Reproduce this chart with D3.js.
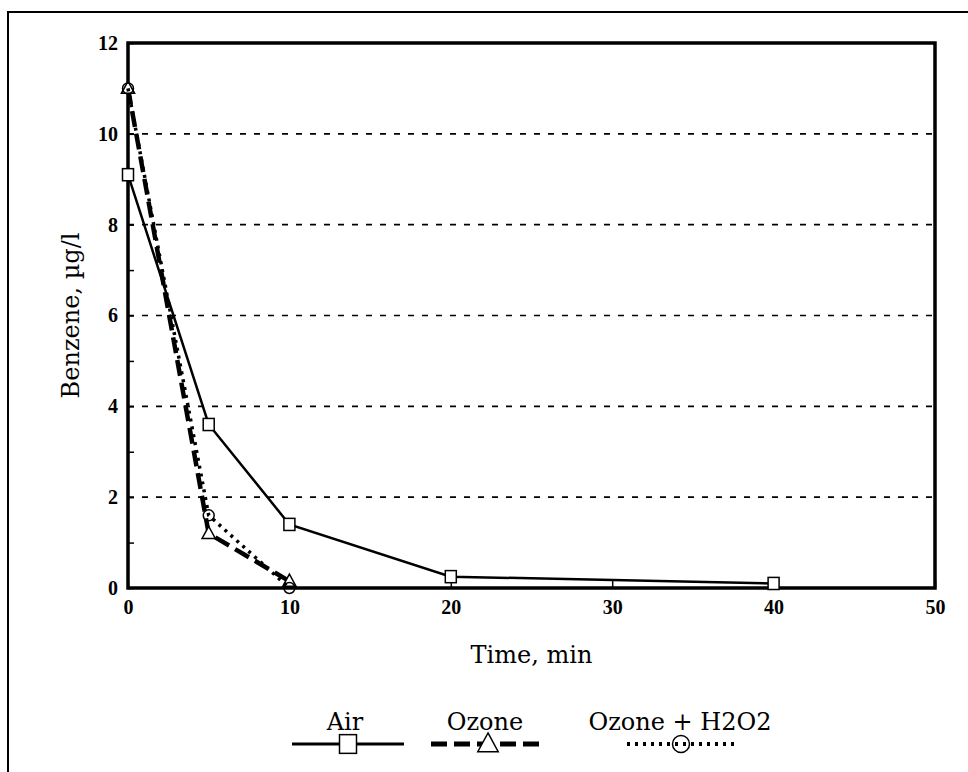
<!DOCTYPE html>
<html>
<head>
<meta charset="utf-8">
<script src="https://cdn.jsdelivr.net/npm/d3@7"></script>
<style>
  body { margin: 0; background: #fff; }
  svg { display: block; }
  .axis-title, .legend-label { font-family: "DejaVu Serif", serif; font-size: 24px; }
</style>
</head>
<body>
<div id="chart"></div>
<script>
var width = 968, height = 772;
var margin = {left: 128, top: 43, right: 33, bottom: 184};

// data
var airTime = [0, 5, 10, 20, 40];
var airValues = [9.1, 3.6, 1.4, 0.25, 0.1];
var ozoneTime = [0, 5, 10];
var ozoneValues = [11, 1.2, 0.15];
var h2o2Time = [0, 5, 10];
var h2o2Values = [11, 1.6, 0];

var xTicks = [0, 10, 20, 30, 40, 50];
var yTicks = [0, 1, 2, 3, 4, 5, 6, 7, 8, 9, 10, 11, 12];
var gridValues = [2, 4, 6, 8, 10];
var seriesNames = ["Air", "Ozone", "Ozone + H2O2"];

var svg = d3.select("#chart").append("svg")
  .attr("width", width)
  .attr("height", height);

var x = d3.scaleLinear()
  .domain([0, 50])
  .range([margin.left, width - margin.right]);

var y = d3.scaleLinear()
  .domain([0, 12])
  .range([height - margin.bottom, margin.top]);

// outer page frame (left and top edges only visible)
svg.append("path")
  .attr("d", "M8,772V12H968")
  .attr("fill", "none")
  .attr("stroke", "#000")
  .attr("stroke-width", 2);

// dashed grid
svg.selectAll(".grid")
  .data(gridValues)
  .enter().append("line")
    .attr("class", "grid")
    .attr("x1", x(0))
    .attr("x2", x(50))
    .attr("y1", function(d) { return y(d); })
    .attr("y2", function(d) { return y(d); })
    .attr("stroke", "#000")
    .attr("stroke-width", 1.6)
    .attr("stroke-dasharray", "6,8");

// axes: labels outside, small ticks inside
var yAxis = svg.append("g")
  .attr("transform", "translate(" + x(0) + ",0)")
  .call(d3.axisLeft(y)
    .tickValues(yTicks)
    .tickSize(-6)
    .tickPadding(10)
    .tickFormat(function(d) { return d % 2 === 0 ? d : ""; }));

var xAxis = svg.append("g")
  .attr("transform", "translate(0," + y(0) + ")")
  .call(d3.axisBottom(x)
    .tickValues(xTicks)
    .tickSize(-7)
    .tickPadding(12)
    .tickFormat(d3.format("d")));

[yAxis, xAxis].forEach(function(g) {
  g.attr("font-family", "'Liberation Serif', serif")
    .attr("font-size", 20)
    .attr("font-weight", "bold");
  g.select(".domain").remove();
  g.selectAll(".tick line").attr("stroke", "#000").attr("stroke-width", 1.5);
  g.selectAll(".tick text").attr("fill", "#000");
});

// plot frame
svg.append("rect")
  .attr("x", x(0))
  .attr("y", y(12))
  .attr("width", x(50) - x(0))
  .attr("height", y(0) - y(12))
  .attr("fill", "none")
  .attr("stroke", "#000")
  .attr("stroke-width", 3.5);

// axis titles
svg.append("text")
  .attr("class", "axis-title")
  .attr("x", (x(0) + x(50)) / 2)
  .attr("y", 663)
  .attr("text-anchor", "middle")
  .text("Time, min");

svg.append("text")
  .attr("class", "axis-title")
  .attr("transform", "translate(79," + (y(0) + y(12)) / 2 + ") rotate(-90)")
  .attr("text-anchor", "middle")
  .text("Benzene, \u00b5g/l");

var styles = [
  {dash: null, width: 2.5, marker: "square"},
  {dash: "16,7", width: 4.5, marker: "triangle"},
  {dash: "3,5", width: 3.5, marker: "circle"}
];

var series = [
  {time: airTime, values: airValues, style: styles[0]},
  {time: ozoneTime, values: ozoneValues, style: styles[1]},
  {time: h2o2Time, values: h2o2Values, style: styles[2]}
];

var line = d3.line()
  .x(function(d) { return x(d[0]); })
  .y(function(d) { return y(d[1]); });

function drawMarker(g, kind, cx, cy, s) {
  if (kind === "square") {
    g.append("rect")
      .attr("x", cx - s * 0.5).attr("y", cy - s * 0.55)
      .attr("width", s).attr("height", s * 1.1)
      .attr("fill", "#fff").attr("stroke", "#000").attr("stroke-width", 1.5);
  } else if (kind === "triangle") {
    g.append("path")
      .attr("d", "M" + cx + "," + (cy - s * 0.65) + "L" + (cx + s * 0.6) + "," + (cy + s * 0.45) +
        "L" + (cx - s * 0.6) + "," + (cy + s * 0.45) + "Z")
      .attr("fill", "#fff").attr("stroke", "#000").attr("stroke-width", 1.5);
  } else {
    g.append("circle")
      .attr("cx", cx).attr("cy", cy).attr("r", s * 0.5)
      .attr("fill", "none").attr("stroke", "#000").attr("stroke-width", 1.5);
  }
}

series.forEach(function(s) {
  var pts = d3.zip(s.time, s.values);
  svg.append("path")
    .datum(pts)
    .attr("d", line)
    .attr("fill", "none")
    .attr("stroke", "#000")
    .attr("stroke-width", s.style.width)
    .attr("stroke-dasharray", s.style.dash);
  var mg = svg.append("g");
  pts.forEach(function(p) {
    drawMarker(mg, s.style.marker, x(p[0]), y(p[1]), 11);
  });
});

// legend
var legendX = [348, 488, 681];
var legendHalf = [56, 57, 54];
var legend = svg.append("g").attr("class", "legend");

seriesNames.forEach(function(name, i) {
  var cx = legendX[i];
  legend.append("text")
    .attr("class", "legend-label")
    .attr("x", i === 2 ? 680 : cx - 3)
    .attr("y", 730)
    .attr("text-anchor", "middle")
    .text(name);
  legend.append("line")
    .attr("x1", cx - legendHalf[i]).attr("x2", cx + legendHalf[i])
    .attr("y1", 744).attr("y2", 744)
    .attr("stroke", "#000")
    .attr("stroke-width", styles[i].width + 0.5)
    .attr("stroke-dasharray", styles[i].dash);
  drawMarker(legend, styles[i].marker, cx, 744, 17);
});
</script>
</body>
</html>
